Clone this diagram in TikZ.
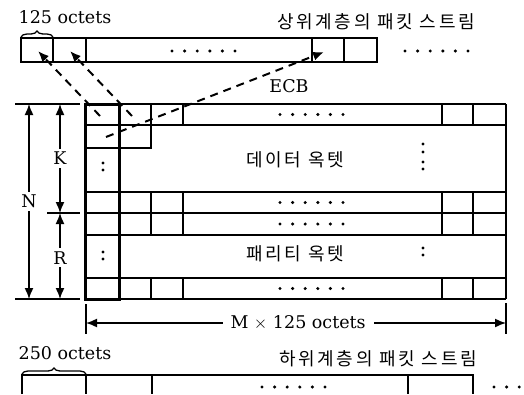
\documentclass[tikz,border=0pt]{standalone}
\usepackage{fontspec}
\setmainfont{DejaVu Serif}
\newfontfamily\kr[LetterSpace=15]{Noto Sans CJK KR}
\usetikzlibrary{arrows.meta,decorations.pathreplacing}
\newcommand{\dotrow}[3]{\foreach \k in {0,...,#3}{\fill ({#1+12.6*\k},{#2}) circle (1.7);}}
\begin{document}
\begin{tikzpicture}[x=1pt,y=-1pt,>={Latex[length=11pt,width=9pt]},
  grid/.style={line width=1.7pt},
  thickgrid/.style={line width=3pt},
  lbl/.style={font=\fontsize{17.5}{20}\selectfont,inner sep=1pt},
  krlbl/.style={font=\kr\fontsize{18}{20}\selectfont,inner sep=1pt},
  link/.style={->,line width=2pt,dash pattern=on 8pt off 6pt},
  dim/.style={<->,line width=1.5pt},
  brc/.style={decorate,decoration={brace,amplitude=6pt},line width=1.3pt}]
\useasboundingbox (0,0) rectangle (524,394);
\node[lbl] (upsize) at (65,17) {125 octets};
\node[krlbl] (uptitle) at (376,22) {상위계층의 패킷 스트림};
\draw[line width=2pt] (21,38) rectangle (377,62);
\foreach \x in {53,86,312,344} \draw[line width=2pt] (\x,38)--(\x,62);
\draw[brc] (21,37)--(53,37);
\dotrow{172}{51}{5}
\dotrow{405}{51}{5}
\node[lbl] (ecb) at (289,86) {ECB};
\foreach \y in {104,125,192,213,235,278,299} \draw[grid] (85,\y)--(506,\y);
\draw[grid] (506,104)--(506,299);
\foreach \a/\b in {104/125,192/213,213/235,278/299}{
  \foreach \x in {151,183,442,473} \draw[grid] (\x,\a)--(\x,\b);
  \dotrow{280}{(\a+\b)/2}{5}}
\draw[grid] (85,148)--(151,148)--(151,125);
\draw[thickgrid] (85,104) rectangle (119,299);
\foreach \y in {163,170,252,259} \fill (103,\y) circle (1.7);
\foreach \y in {144,152,162,169,248,255} \fill (423,\y) circle (1.6);
\node[krlbl] (data) at (295,160) {데이터 옥텟};
\node[krlbl] (parity) at (295,254) {패리티 옥텟};
\coordinate (c1) at (100,116);
\coordinate (c2) at (132,116);
\coordinate (c3) at (106,137);
\coordinate (p1) at (38,51);
\coordinate (p2) at (70,51);
\coordinate (p3) at (324,52);
\draw[link] (c1)--(p1);
\draw[link] (c2)--(p2);
\draw[link] (c3)--(p3);
\draw[line width=1.5pt] (15,104)--(80,104) (47,213)--(80,213) (15,299)--(80,299);
\coordinate (ntop) at (29,104);
\coordinate (nbot) at (29,299);
\coordinate (kmid) at (60,213);
\draw[dim] (ntop)--(nbot) node[lbl,midway,fill=white,inner sep=3pt] (nlab) {N};
\draw[dim] (ntop-|kmid)--(kmid) node[lbl,pos=0.5,fill=white,inner sep=3pt] (klab) {K};
\draw[dim] (kmid)--(nbot-|kmid) node[lbl,pos=0.52,fill=white,inner sep=3pt] (rlab) {R};
\coordinate (mleft) at (86,323);
\coordinate (mright) at (506,323);
\draw[line width=1.5pt] (86,304)--(86,334) (506,303)--(506,334);
\draw[dim] (mleft)--(mright) node[lbl,pos=0.505,fill=white,inner sep=8pt] (mlab) {M $\times$ 125 octets};
\node[lbl] (downsize) at (65,353) {250 octets};
\node[krlbl] (downtitle) at (378,359) {하위계층의 패킷 스트림};
\draw[brc] (22,374)--(86,374);
\draw[line width=2pt] (22,394)--(22,375)--(473,375)--(473,394);
\foreach \x in {86,152,408} \draw[line width=2pt] (\x,375)--(\x,394);
\dotrow{262}{387}{5}
\dotrow{494}{387}{2}
\end{tikzpicture}
\end{document}
